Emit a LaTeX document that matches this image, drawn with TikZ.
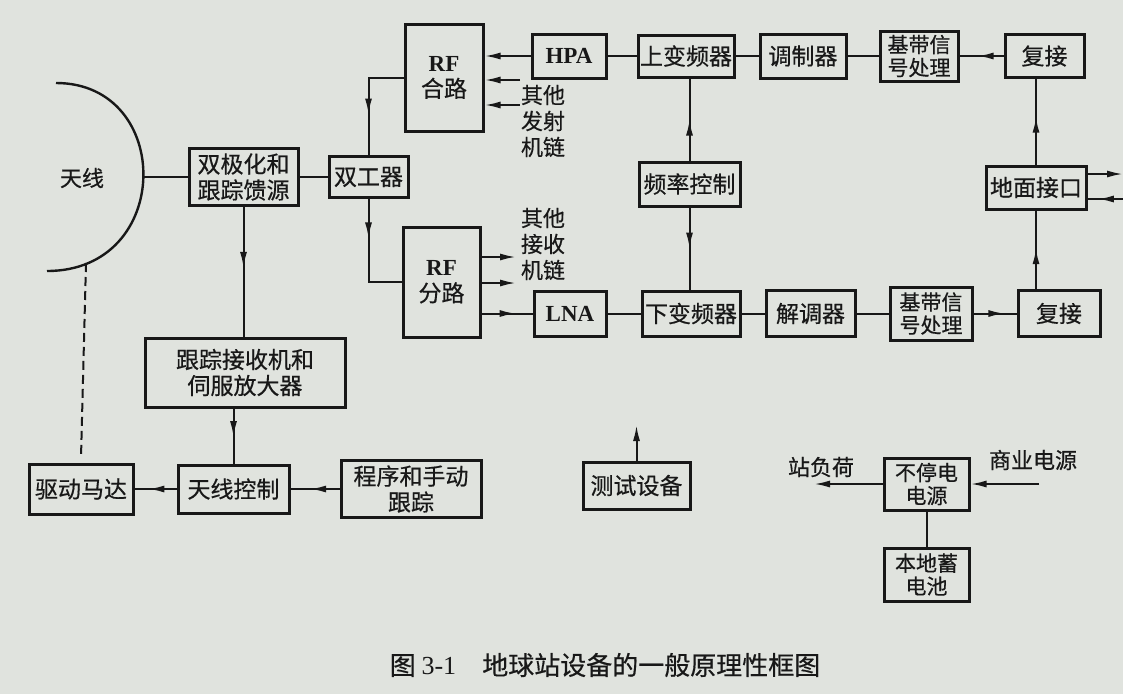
\documentclass[tikz,border=0pt]{standalone}
\usepackage{fontspec}
\setmainfont{Liberation Serif}
\newfontfamily\cjk[FakeBold=0.5]{Noto Sans CJK SC}
\usetikzlibrary{arrows.meta, positioning, decorations.markings}
\definecolor{paper}{RGB}{224,227,222}
\definecolor{ink}{RGB}{24,24,24}
\newcommand{\rmtxt}[1]{{\rmfamily\bfseries #1}}
\tikzset{
    station/.style={>={Latex[length=16pt,width=7pt]}, line width=2pt, color=ink},
    block/.style={draw, line width=3pt, align=center, inner sep=0pt, font=\cjk\fontsize{23}{26}\selectfont},
    tight/.style={font=\cjk\fontsize{21}{23}\selectfont},
    boxsize/.style 2 args={minimum width=#1pt, minimum height=#2pt},
    txt/.style={inner sep=0pt, align=left, font=\cjk\fontsize{22}{26}\selectfont},
    % arrow head part way along a connector
    midarrow/.style={postaction={decorate}, decoration={markings, mark=at position #1 with {\arrow{Latex[length=16pt,width=7pt]}}}},
    midarrow/.default=0.5,
}
\begin{document}
\begin{tikzpicture}[station, x=1pt, y=-1pt]
    \fill[paper] (0,0) rectangle (1123,694);
    \useasboundingbox (0,0) rectangle (1123,694);

    % antenna side
    \node[block, boxsize={109}{57}] (feed) at (243.5,177) {双极化和\\跟踪馈源};
    \node[block, boxsize={79}{41}, right=28pt of feed] (dup) {双工器};
    \node[block, boxsize={78}{107}] (comb) at (444,77.5) {\rmtxt{RF}\\合路};
    \node[block, boxsize={77}{110}] (split) at (441.5,282) {\rmtxt{RF}\\分路};

    % transmit chain
    \node[block, boxsize={74}{44}] (hpa) at (569,56) {\rmtxt{HPA}};
    \node[block, boxsize={96}{42}, right=29pt of hpa] (upc) {上变频器};
    \node[block, boxsize={86}{44}, right=23pt of upc] (mod) {调制器};
    \node[block, tight, boxsize={78}{50}, right=31pt of mod] (bbt) {基带信\\号处理};
    \node[block, boxsize={79}{43}, right=44pt of bbt] (muxt) {复接};
    \node[block, boxsize={101}{44}] (fc) at (689.5,184) {频率控制};
    \node[block, boxsize={100}{43}] (gi) at (1036,187.5) {地面接口};

    % receive chain
    \node[block, boxsize={72}{45}] (lna) at (570,313.5) {\rmtxt{LNA}};
    \node[block, boxsize={98}{45}, right=33pt of lna] (dnc) {下变频器};
    \node[block, boxsize={89}{46}, right=23pt of dnc] (dem) {解调器};
    \node[block, tight, boxsize={82}{53}, right=32pt of dem] (bbb) {基带信\\号处理};
    \node[block, boxsize={82}{46}, right=43pt of bbb] (muxb) {复接};

    % tracking
    \node[block, boxsize={200}{69}] (trk) at (245,372.5) {跟踪接收机和\\伺服放大器};
    \node[block, boxsize={111}{48}] (actl) at (233.5,489) {天线控制};
    \node[block, boxsize={104}{50}, left=42pt of actl] (motor) {驱动马达};
    \node[block, boxsize={140}{57}, right=49pt of actl] (prog) {程序和手动\\跟踪};

    % test and power
    \node[block, boxsize={107}{47}] (test) at (636.5,485.5) {测试设备};
    \node[block, tight, boxsize={85}{52}] (ups) at (926.5,484) {不停电\\电源};
    \node[block, tight, boxsize={85}{53}, below=35pt of ups] (bat) {本地蓄\\电池};

    % free texts
    \node[txt] (antname) at (82,178) {天线};
    \node[txt, anchor=west] (txother) at (520,121) {其他\\发射\\机链};
    \node[txt, anchor=west] (rxother) at (520,244) {其他\\接收\\机链};
    \node[txt] (loadname) at (821,467) {站负荷};
    \node[txt] (mainsname) at (1033,460) {商业电源};
    \node[txt, font=\cjk\fontsize{26}{30}\selectfont] (caption) at (605,665) {图 {\rmfamily 3-1}\quad 地球站设备的一般原理性框图};

    % free ends
    \coordinate (dishtop) at (56,83);
    \coordinate (dish) at (144,177);
    \coordinate (dishbot) at (47,271);
    \coordinate (dashtop) at (86,263);
    \coordinate (tx1) at (520,80);
    \coordinate (tx2) at (520,105);
    \coordinate (rx1) at (516,257);
    \coordinate (rx2) at (516,283);
    \coordinate (gout) at (1123,174);
    \coordinate (gin) at (1123,199);
    \coordinate (testup) at (636.5,425);
    \coordinate (loadend) at (814,484);
    \coordinate (mainsend) at (1039,484);

    % antenna
    \draw[line width=2.4pt] (dishtop) .. controls (174,83) and (174,271) .. (dishbot);
    \draw (dish) -- (feed.west);
    \draw[dash pattern=on 9pt off 5pt] (dashtop) -- ([yshift=5pt]motor.north);
    \draw (feed) -- (dup);
    \draw[midarrow=0.64] (comb.west) -| (dup.north);
    \draw[midarrow=0.34] (dup.south) |- (split.west);

    % RF combine / split
    \draw[->] (hpa.west) -- (hpa.west -| comb.east);
    \draw[->] (tx1) -- (tx1 -| comb.east);
    \draw[->] (tx2) -- (tx2 -| comb.east);
    \draw[->] (split.east |- rx1) -- (rx1);
    \draw[->] (split.east |- rx2) -- (rx2);
    \draw[midarrow=0.67] (split.east |- lna.west) -- (lna.west);

    % transmit
    \draw (hpa) -- (upc);
    \draw (upc) -- (mod);
    \draw (mod) -- (bbt);
    \draw[midarrow=0.59] (muxt) -- (bbt);
    \draw[midarrow] (fc.north) -- (fc.north |- upc.south);
    \draw[midarrow] (fc.south) -- (fc.south |- dnc.north);

    % receive
    \draw (lna) -- (dnc);
    \draw (dnc) -- (dem);
    \draw (dem) -- (bbb);
    \draw[midarrow=0.72] (bbb) -- (muxb);
    \draw[midarrow=0.52] (gi.south |- muxb.north) -- (gi.south);
    \draw[midarrow=0.56] (gi.north) -- (gi.north |- muxt.south);
    \draw[->] (gi.east |- gout) -- (gout);
    \draw[midarrow=0.71] (gin) -- (gin -| gi.east);

    % tracking
    \draw[midarrow=0.47] (feed.south) -- (feed.south |- trk.north);
    \draw[midarrow=0.52] (trk.south -| actl.north) -- (actl.north);
    \draw[midarrow=0.6] (prog) -- (actl);
    \draw[midarrow=0.67] (actl) -- (motor);

    % test and power
    \draw[->] (test.north) -- (testup);
    \draw[->] (ups.west) -- (loadend);
    \draw[->] (mainsend) -- (ups.east);
    \draw (ups) -- (bat);
\end{tikzpicture}
\end{document}
